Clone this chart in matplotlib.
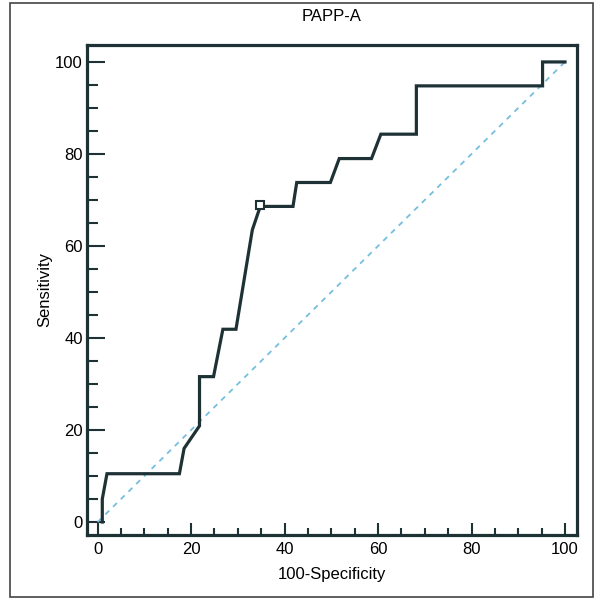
import matplotlib.pyplot as plt
from matplotlib.patches import Rectangle
from matplotlib.ticker import MultipleLocator

# ROC curve points (100-Specificity, Sensitivity)
fpr = [1.0, 1.0, 2.0, 17.5, 18.5, 21.8, 21.8, 24.8, 26.8, 29.6, 33.1, 34.8,
       41.8, 42.6, 49.8, 51.7, 58.6, 60.6, 68.2, 68.2, 95.2, 95.2, 100.0]
tpr = [0.0, 5.0, 10.5, 10.5, 16.0, 20.9, 31.6, 31.6, 41.9, 41.9, 63.5, 68.6,
       68.6, 73.8, 73.8, 79.0, 79.0, 84.3, 84.3, 94.8, 94.8, 100.0, 100.0]
cutoff_x = [34.8]
cutoff_y = [68.8]
diag = [0, 100]

title = "PAPP-A"
xlabel = "100-Specificity"
ylabel = "Sensitivity"

plt.rcParams["font.family"] = ["Liberation Sans Narrow", "Liberation Sans", "DejaVu Sans"]

dark = "#1e3236"

fig = plt.figure(figsize=(5.95, 5.99), dpi=100)
ax = fig.add_axes([0.146, 0.107, 0.824, 0.818])

ax.plot(diag, diag, linestyle=(0, (3, 3)), color="#74bfe0", linewidth=1.3)
ax.plot(fpr, tpr, color=dark, linewidth=2.3, solid_joinstyle="miter")
ax.plot(cutoff_x, cutoff_y, marker="s", markersize=6, markerfacecolor="white",
        markeredgecolor=dark, markeredgewidth=1.5, linestyle="none")

ax.set_xlim(-2.3, 102.6)
ax.set_ylim(-2.8, 103.7)
ax.xaxis.set_major_locator(MultipleLocator(20))
ax.xaxis.set_minor_locator(MultipleLocator(5))
ax.yaxis.set_major_locator(MultipleLocator(20))
ax.yaxis.set_minor_locator(MultipleLocator(5))

ax.tick_params(axis="both", which="both", direction="in", color=dark,
               labelsize=12, width=1.5, pad=5)
ax.tick_params(axis="x", which="major", length=9)
ax.tick_params(axis="x", which="minor", length=5)
ax.tick_params(axis="y", which="major", length=13, pad=3)
ax.tick_params(axis="y", which="minor", length=8)

for s in ax.spines.values():
    s.set_linewidth(2.3)
    s.set_color(dark)

ax.set_title(title, fontsize=12, pad=17)
ax.set_xlabel(xlabel, fontsize=12, labelpad=7)
ax.set_ylabel(ylabel, fontsize=12, labelpad=2)

# thin frame around the whole figure
fig.patches.append(Rectangle((10 / 595, 2 / 599), 583 / 595, 594 / 599,
                             transform=fig.transFigure, fill=False,
                             edgecolor="#444444", linewidth=1.2))

fig.savefig("out.png", dpi=100)
